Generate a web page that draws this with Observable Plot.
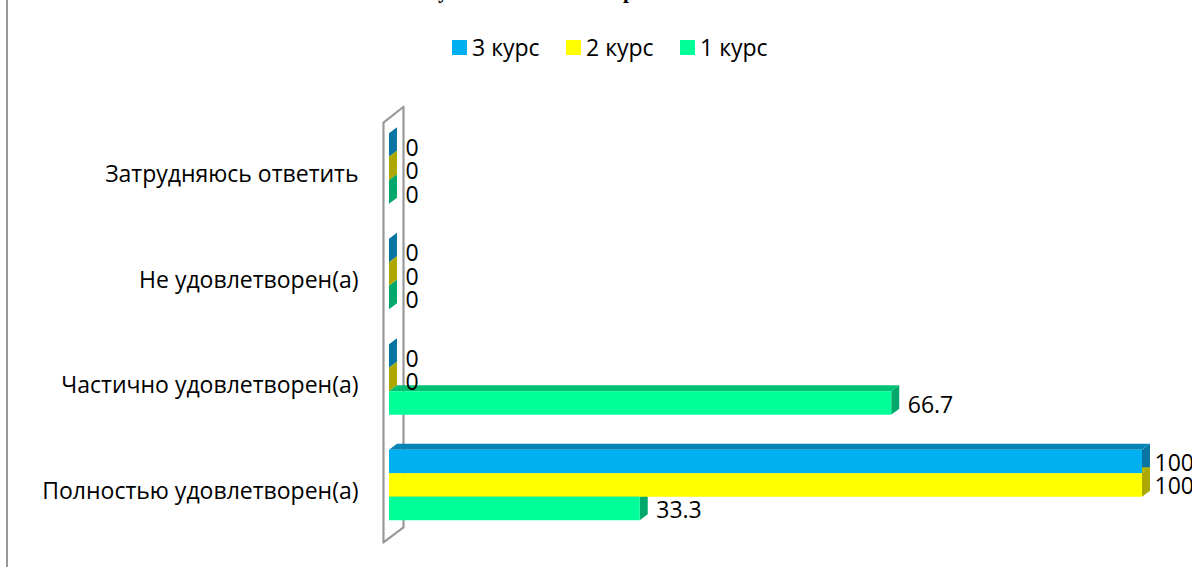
<!DOCTYPE html>
<html><head><meta charset="utf-8">
<script src="https://cdn.jsdelivr.net/npm/d3@7"></script>
<script src="https://cdn.jsdelivr.net/npm/@observablehq/plot@0.6"></script>
<style>
html,body{margin:0;padding:0;background:#fff;overflow:hidden}
#page{position:relative;width:1192px;height:567px;overflow:hidden;font-family:"Open Sans",sans-serif;background:#fff}
#frame{position:absolute;left:6px;top:0;width:2px;height:567px;background:#999;z-index:2}
#title span{position:absolute;top:-21px;font:bold 21px/24px "Liberation Serif",serif;color:#000}
#legend{position:absolute;top:30px;left:452px;display:flex;font-size:23px;color:#000;line-height:34px;z-index:2}
#legend span.i{display:flex;align-items:center;width:114px;white-space:nowrap}
#legend i{display:block;width:15px;height:15px;margin-right:5px}
#chart{position:absolute;left:0;top:70px}
svg{display:block}
</style></head><body>
<div id="page"><div id="chart"></div><div id="frame"></div><div id="title"></div><div id="legend"></div></div>
<script>
const categories = ["Полностью удовлетворен(а)","Частично удовлетворен(а)","Не удовлетворен(а)","Затрудняюсь ответить"];
const seriesNames = ["3 курс","2 курс","1 курс"];
const course3 = [100,0,0,0];
const course2 = [100,0,0,0];
const course1 = [33.3,66.7,0,0];
const frontColors = ["#00B0F0","#FFFF00","#00FF99"];
const topColors = ["#0684B4","#B3B300","#00C074"];
const sideColors = ["#0775A3","#ADA800","#00A96B"];
const wall = [[-0.8,-0.54],[-0.8,3.44],[1.86,3.59],[1.86,-0.398],[-0.8,-0.54]];
const titleTail = [["у",438],["р",623]];

const barH = 0.2227, depthX = 1.06, depthY = 0.057;
const bars = [];
[course3,course2,course1].forEach((vals,s)=>vals.forEach((v,c)=>{
  const yTop = c + barH*(1.5 - s), yBot = yTop - barH;
  bars.push({c,s,v,yTop,yBot,yMid:(yTop+yBot)/2});
}));
const topFace = b => [{...b,x1:0,x2:b.v,y:b.yTop},{...b,x1:depthX,x2:b.v+depthX,y:b.yTop+depthY}];
const sideFace = b => [{...b,x:b.v,y1:b.yBot,y2:b.yTop},{...b,x:b.v+depthX,y1:b.yBot+depthY,y2:b.yTop+depthY}];
const valueText = (data,dx,dy)=>Plot.text(data,{x:"v",y:"yMid",text:d=>String(d.v),textAnchor:"start",fill:"#000",fontSize:23,fontFamily:"'Open Sans',sans-serif",dx,dy});

const marks = [
  Plot.line(wall,{x:d=>d[0],y:d=>d[1],stroke:"#999",strokeWidth:2.2}),
  ...bars.map(b=>Plot.areaY(sideFace(b),{x:"x",y1:"y1",y2:"y2",fill:sideColors[b.s]})),
  ...bars.filter(b=>b.v>0).map(b=>Plot.areaX(topFace(b),{x1:"x1",x2:"x2",y:"y",fill:topColors[b.s]})),
  Plot.rect(bars.filter(b=>b.v>0),{x1:0,x2:"v",y1:"yBot",y2:"yTop",fill:d=>frontColors[d.s]}),
  valueText(bars.filter(b=>b.v===0),16,3),
  valueText(bars.filter(b=>b.v>0&&b.v<100),16,2),
  valueText(bars.filter(b=>b.v===100),12,1.5),
  Plot.axisY({ticks:[0,1,2,3],tickFormat:i=>categories[i],tickSize:0,tickPadding:31,label:null,fontSize:23,fontFamily:"'Open Sans',sans-serif",fill:"#000",dy:6})
];
const chart = Plot.plot({
  width:1192,height:497,
  marginLeft:389,marginRight:50,marginTop:24.65,marginBottom:18.7,
  x:{domain:[0,100],axis:null},
  y:{domain:[-0.6,3.7]},
  style:{background:"transparent",color:"#000",overflow:"visible"},
  marks
});
document.getElementById("chart").appendChild(chart);
const lg = d3.select("#legend");
seriesNames.forEach((n,i)=>{
  const e = lg.append("span").attr("class","i");
  e.append("i").style("background",frontColors[i]);
  e.append("span").text(n);
});
d3.select("#title").selectAll("span").data(titleTail).join("span").style("left",d=>d[1]+"px").text(d=>d[0]);
</script></body></html>
